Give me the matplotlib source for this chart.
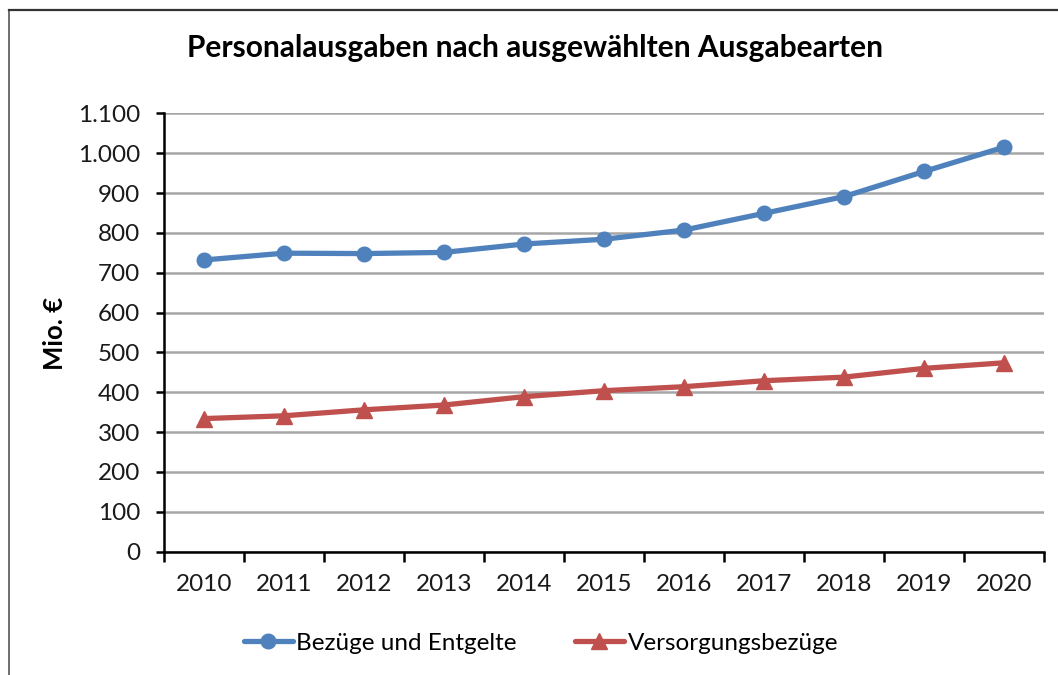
import numpy as np
import matplotlib.pyplot as plt
from matplotlib.lines import Line2D

plt.rcParams['font.family'] = ['Lato', 'DejaVu Sans']

# Data (Mio. €)
years = ['2010', '2011', '2012', '2013', '2014', '2015', '2016', '2017', '2018', '2019', '2020']
bezuege = [732, 749, 748, 751, 772, 784, 807, 849, 891, 954, 1015]
versorgung = [334, 341, 356, 368, 389, 404, 414, 429, 438, 460, 474]
yticks = [0, 100, 200, 300, 400, 500, 600, 700, 800, 900, 1000, 1100]
ytick_labels = ['0', '100', '200', '300', '400', '500', '600', '700', '800', '900', '1.000', '1.100']

blue = '#4F81BD'
red = '#C0504D'

fig = plt.figure(figsize=(10.58, 6.75), dpi=100)
ax = fig.add_axes([164 / 1058, 1 - 551.7 / 675, 880 / 1058, 438.4 / 675])

x = np.arange(len(years))
ax.plot(x, bezuege, color=blue, lw=3.8, marker='o', markersize=10.5,
        label='Bezüge und Entgelte', solid_capstyle='round')
ax.plot(x, versorgung, color=red, lw=3.8, marker='^', markersize=11,
        label='Versorgungsbezüge', solid_capstyle='round')

ax.set_xlim(-0.5, len(years) - 0.5)
ax.set_ylim(0, 1100)

# category axis: ticks between categories, labels at centers
ax.set_xticks(np.arange(-0.5, len(years)), labels=[''] * (len(years) + 1))
ax.set_xticks(x, labels=years, minor=True)
ax.tick_params(axis='x', which='major', length=7, width=1.8, direction='out')
ax.tick_params(axis='x', which='minor', length=0, pad=16, labelsize=17.5, labelcolor='#1a1a1a')

ax.set_yticks(yticks, labels=ytick_labels)
ax.tick_params(axis='y', length=6, width=1.8, direction='out', pad=11, labelsize=17.5,
               labelcolor='#1a1a1a')

ax.grid(axis='y', color='#A6A6A6', lw=1.8)
ax.set_axisbelow(True)
for s in ['top', 'right']:
    ax.spines[s].set_visible(False)
for s in ['left', 'bottom']:
    ax.spines[s].set_linewidth(1.8)

fig.text(55 / 1058, 1 - 333 / 675, 'Mio. €', rotation=90, ha='center', va='center',
         fontsize=18.5, fontweight='bold')

fig.text(535 / 1058, 1 - 48 / 675, 'Personalausgaben nach ausgewählten Ausgabearten',
         ha='center', va='center', fontsize=21.5, fontweight='bold')

fig.legend(loc='center', bbox_to_anchor=(541 / 1058, 1 - 643 / 675), ncol=2,
           frameon=False, fontsize=17.5, handlelength=2.0, handletextpad=0.15,
           columnspacing=2.4)

# outer chart frame (only left and top visible)
fig.add_artist(Line2D([9 / 1058, 9 / 1058], [0, 1 - 10 / 675], color='#555555', lw=1.2,
                      transform=fig.transFigure))
fig.add_artist(Line2D([9 / 1058, 1], [1 - 10 / 675, 1 - 10 / 675], color='#333333', lw=1.6,
                      transform=fig.transFigure))

fig.savefig('out.png', dpi=100)
